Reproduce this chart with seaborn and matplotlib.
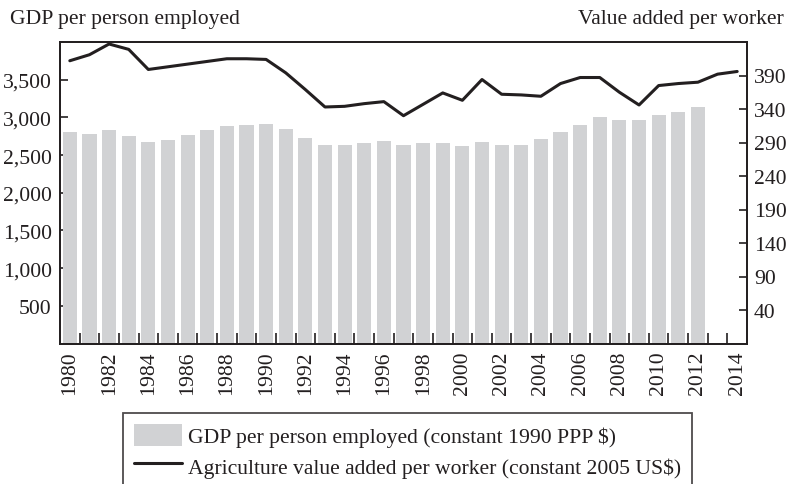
import numpy as np
import pandas as pd
import matplotlib
matplotlib.use("Agg")
import matplotlib.pyplot as plt
import seaborn as sns
from matplotlib.patches import Patch
from matplotlib.lines import Line2D

# ---- data ----
bar_years = list(range(1980, 2013))
gdp_per_person = [2810, 2780, 2830, 2750, 2670, 2700, 2760, 2830, 2890, 2900,
                  2910, 2850, 2720, 2640, 2630, 2660, 2680, 2630, 2660, 2660,
                  2620, 2670, 2630, 2640, 2710, 2800, 2900, 3010, 2970, 2960,
                  3030, 3070, 3140]
line_years = list(range(1980, 2015))
agri_value_added = [412, 421, 437, 429, 399, 403, 407, 411, 415, 415,
                    414, 394, 369, 343, 344, 348, 351, 330, 347, 364,
                    353, 384, 362, 361, 359, 378, 387, 387, 365, 346,
                    375, 378, 380, 392, 396]
x_labels = [str(y) for y in range(1980, 2015, 2)]
left_ticks = [500, 1000, 1500, 2000, 2500, 3000, 3500]
right_ticks = [40, 90, 140, 190, 240, 290, 340, 390]

title_left = "GDP per person employed"
title_right = "Value added per worker"
legend_bar = "GDP per person employed (constant 1990 PPP $)"
legend_line = "Agriculture value added per worker (constant 2005 US$)"

# ---- style ----
sns.set_theme(style="white")
plt.rcParams["font.family"] = ["Liberation Serif", "DejaVu Serif"]
FS = 15.6
INK = "#231f20"
BAR = "#d1d2d4"

fig = plt.figure(figsize=(7.89, 4.85), dpi=100)
ax = fig.add_axes([60 / 789, 1 - 344.5 / 485, 687 / 789, 301.5 / 485])

df_bar = pd.DataFrame({"year": bar_years, "gdp": gdp_per_person})
sns.barplot(data=df_bar, x="year", y="gdp", native_scale=True, orient="x",
            color=BAR, saturation=1, width=0.72, errorbar=None, ax=ax,
            linewidth=0)
ax.set_axisbelow(True)
ax.set_xlim(line_years[0] - 0.5, line_years[-1] + 0.5)
ax.set_ylim(0, 4000)
ax.set_xlabel("")
ax.set_ylabel("")
ax.set_xticks([int(l) for l in x_labels])
ax.set_xticklabels(x_labels, rotation=90, fontsize=FS, color=INK)
ax.set_xticks([y + 0.5 for y in line_years[:-1]], minor=True)
ax.tick_params(axis="x", which="major", length=0, pad=5)
ax.tick_params(axis="x", which="minor", direction="in", length=8,
               width=1.2, color=INK, bottom=True)
ax.set_yticks(left_ticks)
ax.set_yticklabels([f"{v:,}" for v in left_ticks], fontsize=FS, color=INK)
ax.tick_params(axis="y", direction="in", length=6, width=1.2, color=INK,
               pad=6, left=True)
for s in ax.spines.values():
    s.set_visible(True)
    s.set_color(INK)
    s.set_linewidth(1.3)

ax2 = ax.twinx()
sns.lineplot(x=line_years, y=agri_value_added, ax=ax2, color=INK,
             linewidth=2.2)
ax2.set_ylim(-10, 440)
ax2.set_yticks(right_ticks)
ax2.set_yticklabels([str(v) for v in right_ticks], fontsize=FS, color=INK)
ax2.tick_params(axis="y", direction="in", length=6, width=1.2, color=INK,
                pad=5, right=True)
ax2.set_ylabel("")
for s in ax2.spines.values():
    s.set_visible(True)
    s.set_color(INK)
    s.set_linewidth(1.3)

fig.text(10 / 789, 1 - 24 / 485, title_left, fontsize=FS, color=INK,
         ha="left", va="baseline")
fig.text(784 / 789, 1 - 24 / 485, title_right, fontsize=FS, color=INK,
         ha="right", va="baseline")

handles = [Patch(facecolor=BAR, edgecolor="none"),
           Line2D([], [], color=INK, linewidth=2.2)]
leg = fig.legend(handles, [legend_bar, legend_line], loc="upper left",
                 bbox_to_anchor=(123 / 789, 1 - 414 / 485), frameon=True,
                 fancybox=False, fontsize=FS, handlelength=2.2,
                 handleheight=1.2, handletextpad=0.3, borderpad=0.5,
                 labelspacing=0.32, borderaxespad=0)
leg.get_frame().set_edgecolor(INK)
leg.get_frame().set_linewidth(1.3)
for t in leg.get_texts():
    t.set_color(INK)

fig.savefig("out.png", dpi=100)
